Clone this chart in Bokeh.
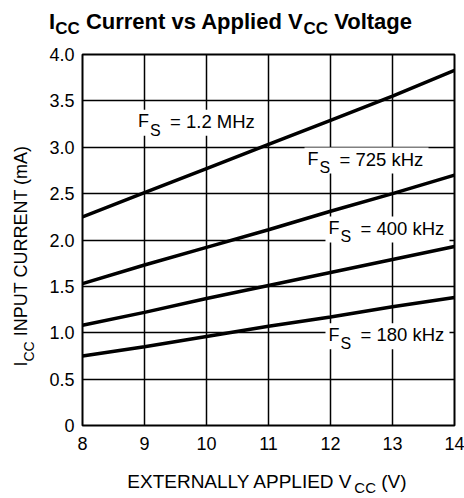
import numpy as np
from bokeh.plotting import figure
from bokeh.models import Range1d, FixedTicker
from bokeh.layouts import column, row
from bokeh.core.properties import value
from bokeh.embed import file_html
from bokeh.resources import INLINE

# ---- data ----
vcc = [8, 9, 10, 11, 12, 13, 14]
icc_1200khz = [2.25, 2.51, 2.77, 3.03, 3.29, 3.55, 3.83]
icc_725khz = [1.53, 1.73, 1.92, 2.11, 2.31, 2.50, 2.70]
icc_400khz = [1.08, 1.22, 1.37, 1.51, 1.65, 1.79, 1.93]
icc_180khz = [0.75, 0.85, 0.96, 1.07, 1.17, 1.28, 1.38]

curve_label_text = ["= 1.2 MHz", "= 725 kHz", "= 400 kHz", "= 180 kHz"]
x_ticks = [8, 9, 10, 11, 12, 13, 14]
y_ticks = [0, 0.5, 1.0, 1.5, 2.0, 2.5, 3.0, 3.5, 4.0]
y_tick_labels = ["0", "0.5", "1.0", "1.5", "2.0", "2.5", "3.0", "3.5", "4.0"]

title_pieces = [("I", 0), ("CC", 1), (" Current vs Applied V", 0), ("CC", 1), (" Voltage", 0)]
xlabel_pieces = [("EXTERNALLY APPLIED V", 0), ("CC", 1), (" (V)", 0)]
ylabel_pieces = [("I", 0), ("CC", 1), (" INPUT CURRENT (mA)", 0)]

# curve-label box centres (data units)
label_x = [9.847, 12.581, 12.919, 12.919]
label_y = [3.264, 2.857, 2.113, 0.963]

FONT = "Liberation Sans"
W = 464
H = 498
MID = 0.35  # baseline -> middle, in em

W_REG = {' ': 278, '(': 333, ')': 333, '=': 584, '.': 278, 'A': 667, 'C': 722,
         'D': 722, 'E': 667, 'F': 611, 'H': 722, 'I': 278, 'L': 556, 'M': 833,
         'N': 722, 'P': 667, 'R': 722, 'S': 667, 'T': 611, 'U': 722, 'V': 667,
         'X': 667, 'Y': 667, 'k': 500, 'z': 500, 'm': 833}
W_BOLD = {' ': 278, 'A': 722, 'C': 722, 'I': 278, 'V': 667, 'a': 556, 'd': 611,
          'e': 556, 'g': 611, 'i': 278, 'l': 278, 'n': 611, 'o': 611, 'p': 611,
          'r': 389, 's': 556, 't': 333, 'u': 611, 'v': 556}


def tw(s, size, bold=False):
    table = W_BOLD if bold else W_REG
    return sum(table.get(c, 556) for c in s) * size / 1000.0


def blank(w, h, xr, yr, top=0, bottom=0):
    f = figure(width=w, height=h, x_range=Range1d(*xr), y_range=Range1d(*yr),
               output_backend="svg", toolbar_location=None,
               x_axis_location=None, y_axis_location=None,
               min_border_left=0, min_border_right=0,
               min_border_top=top, min_border_bottom=bottom)
    f.grid.visible = False
    f.outline_line_color = None
    f.background_fill_color = "white"
    f.border_fill_color = "white"
    return f


def put_pieces(f, pieces, x0, base, size, sub_size, sub_drop, bold=False, vertical=False):
    """Lay out text pieces along a baseline (page coordinates)."""
    pos = 0.0
    for txt, is_sub in pieces:
        if txt.startswith(" "):
            pos += tw(" ", size, bold)
            txt = txt.lstrip()
        s = sub_size if is_sub else size
        b = base + (sub_drop if is_sub else 0)
        mid = b - MID * s
        if vertical:
            xs, ys, ang = [mid], [x0 - pos], np.pi / 2
        else:
            xs, ys, ang = [x0 + pos], [mid], 0
        f.text(x=xs, y=ys, text=[txt], angle=ang,
               text_font=value(FONT), text_font_size=f"{s}px",
               text_font_style="bold" if bold else "normal",
               text_color="black", text_baseline="middle", text_align="left")
        pos += tw(txt, s, bold)


# ---- geometry (page pixels) ----
TITLE_H = 40
XLAB_H = 32
MAIN_H = H - TITLE_H - XLAB_H      # 426
YLAB_W = 40
FRAME_TOP, FRAME_BOTTOM = 54, 425
BT = FRAME_TOP - TITLE_H           # 14
BB = TITLE_H + MAIN_H - FRAME_BOTTOM  # 41

# ---- title band ----
title_fig = blank(W, TITLE_H, (0, W), (TITLE_H, 0))
put_pieces(title_fig, title_pieces, 48.6, 28.3, 22, 17, 6, bold=True)

# ---- main plot ----
p = figure(width=W - YLAB_W, height=MAIN_H, x_range=Range1d(8, 14), y_range=Range1d(0, 4),
           output_backend="svg", toolbar_location=None,
           min_border_left=82 - YLAB_W, min_border_right=10,
           min_border_top=BT, min_border_bottom=BB)
p.background_fill_color = "white"
p.border_fill_color = "white"
p.outline_line_color = "black"
p.outline_line_width = 2

for ax in (p.xaxis[0], p.yaxis[0]):
    ax.axis_line_color = None
    ax.major_tick_line_color = None
    ax.minor_tick_line_color = None
    ax.major_tick_in = 0
    ax.major_tick_out = 0
    ax.minor_tick_in = 0
    ax.minor_tick_out = 0
    ax.major_label_text_font = FONT
    ax.major_label_text_font_size = "18px"
    ax.major_label_text_color = "black"
    ax.major_label_standoff = 8
p.xaxis.major_label_standoff = 11

p.xaxis.ticker = FixedTicker(ticks=x_ticks)
p.yaxis.ticker = FixedTicker(ticks=y_ticks)
p.yaxis.major_label_overrides = {t: l for t, l in zip(y_ticks, y_tick_labels)}

p.xgrid.ticker = FixedTicker(ticks=x_ticks)
p.ygrid.ticker = FixedTicker(ticks=y_ticks)
for g in (p.xgrid[0], p.ygrid[0]):
    g.grid_line_color = "black"
    g.grid_line_width = 1.5
    g.grid_line_alpha = 1.0

# white boxes behind the curve labels
p.rect(x=label_x, y=label_y, width=124, height=26, width_units="screen",
       height_units="screen", fill_color="white", line_color=None)
# label texts: F, subscript S, rest  (box centre is 5px above the baseline)
p.text(x=label_x, y=label_y, text=["F"] * 4, x_offset=-59, y_offset=5 - MID * 18,
       text_font=value(FONT), text_font_size="18px", text_color="black",
       text_baseline="middle", text_align="left")
p.text(x=label_x, y=label_y, text=["S"] * 4, x_offset=-47, y_offset=13 - MID * 16,
       text_font=value(FONT), text_font_size="16px", text_color="black",
       text_baseline="middle", text_align="left")
p.text(x=label_x, y=label_y, text=curve_label_text, x_offset=-27, y_offset=5 - MID * 18.5,
       text_font=value(FONT), text_font_size="18.5px", text_color="black",
       text_baseline="middle", text_align="left")

# curves
for ys in (icc_1200khz, icc_725khz, icc_400khz, icc_180khz):
    p.line(vcc, ys, line_color="black", line_width=3.5)

# ---- y label band (frame aligned with the main frame; data = page coords) ----
ylab_fig = blank(YLAB_W, MAIN_H, (0, YLAB_W), (FRAME_BOTTOM, FRAME_TOP), top=BT, bottom=BB)
put_pieces(ylab_fig, ylabel_pieces, 366, 26.7, 18, 14, 6.6, vertical=True)

# ---- x label band ----
xlab_fig = blank(W, XLAB_H, (0, W), (H, H - XLAB_H))
put_pieces(xlab_fig, xlabel_pieces, 126.8, 487.5, 19, 15, 5)

layout = column(title_fig, row(ylab_fig, p, spacing=0), xlab_fig, spacing=0)

open("out.html", "w").write(file_html(layout, INLINE))
